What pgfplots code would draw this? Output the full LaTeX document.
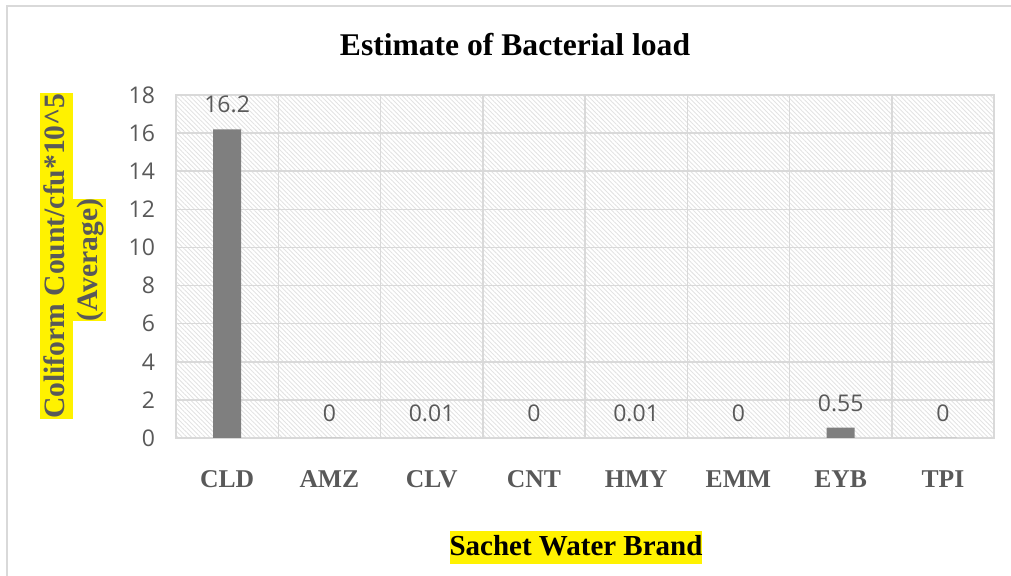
\documentclass[border=0pt]{standalone}
\usepackage{fontspec}
\setmainfont{Liberation Serif}
\newfontfamily\tickfont{Open Sans}
\usepackage{pgfplots}
\pgfplotsset{compat=1.18}
\usetikzlibrary{patterns.meta}
\definecolor{gridc}{HTML}{D9D9D9}
\definecolor{txtc}{HTML}{595959}
\definecolor{barc}{HTML}{7F7F7F}
\definecolor{hatchc}{HTML}{E3E3E3}
\begin{document}
\begin{tikzpicture}
\path[use as bounding box] (0,0) rectangle (505.5pt,288pt);
\draw[gridc, line width=1pt] (3.5pt,0) -- (3.5pt,285pt) -- (510pt,285pt);
\begin{axis}[
  at={(88pt,69pt)}, anchor=south west,
  scale only axis, width=409pt, height=171.5pt,
  xmin=-0.5, xmax=7.5, ymin=0, ymax=18,
  xtick={0,...,7},
  xticklabels={CLD,AMZ,CLV,CNT,HMY,EMM,EYB,TPI},
  minor xtick={0.5,1.5,...,6.5},
  ytick={0,2,...,18},
  xminorgrids=true, ymajorgrids=true,
  major tick length=0pt, minor tick length=0pt,
  grid style={gridc, line width=0.75pt},
  minor grid style={gridc, line width=0.75pt},
  axis line style={gridc, line width=0.75pt},
  axis background/.style={pattern={Lines[angle=-45,distance=1.6pt,line width=0.45pt]}, pattern color=hatchc},
  /pgf/number format/assume math mode=true,
  yticklabel style={font=\tickfont\fontsize{11.5}{13}\selectfont, text=txtc, xshift=-7pt},
  xticklabel style={font=\bfseries\fontsize{12.8}{15}\selectfont, text=txtc, yshift=-12pt, text height=9pt, text depth=0pt},
  ybar, bar width=14pt,
  point meta=explicit symbolic,
  nodes near coords={\pgfplotspointmeta},
  every node near coord/.append style={font=\tickfont\fontsize{11.5}{13}\selectfont, text=txtc, yshift=4.5pt},
]
\addplot[fill=barc, draw=none] coordinates {
 (0,16.2) [16.2]
 (1,0) [0]
 (2,0.01) [0.01]
 (3,0) [0]
 (4,0.01) [0.01]
 (5,0) [0]
 (6,0.55) [0.55]
 (7,0) [0]
};
\end{axis}
\node[font=\bfseries\fontsize{15.8}{19}\selectfont] at (257.5pt,265.5pt) {Estimate of Bacterial load};
\node[rotate=90, fill=yellow, text=txtc, inner sep=0pt, text height=12pt, text depth=4.5pt, font=\bfseries\fontsize{14.8}{17}\selectfont] at (28.25pt,160pt) {Coliform Count/cfu*10\textasciicircum 5};
\node[rotate=90, fill=yellow, text=txtc, inner sep=0pt, text height=12pt, text depth=4.5pt, font=\bfseries\fontsize{14.8}{17}\selectfont] at (44.75pt,158pt) {(Average)};
\node[fill=yellow, text=black, inner sep=0pt, text height=12pt, text depth=4.5pt, font=\bfseries\fontsize{14.5}{17}\selectfont] at (288pt,14pt) {Sachet Water Brand};
\end{tikzpicture}
\end{document}
